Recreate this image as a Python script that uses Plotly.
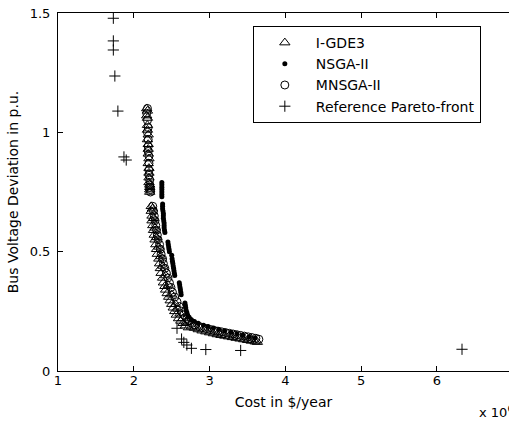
import plotly.graph_objects as go

# Cost values are in units of 10^6 $/year
igde3_x = [2.17, 2.18, 2.17, 2.18, 2.18, 2.18, 2.19, 2.18, 2.19, 2.19, 2.19, 2.20, 2.19, 2.20, 2.20, 2.20, 2.20, 2.21, 2.21, 2.21, 2.21,
           2.23, 2.23, 2.24, 2.24, 2.25, 2.26, 2.27, 2.28, 2.29, 2.30, 2.31, 2.33, 2.34, 2.35, 2.36, 2.38, 2.39, 2.41, 2.42, 2.44,
           2.46, 2.48, 2.50, 2.52, 2.54, 2.56, 2.59, 2.62, 2.65, 2.68, 2.72,
           2.245, 2.26, 2.28, 2.30, 2.33, 2.355, 2.385, 2.42, 2.455, 2.50, 2.55, 2.58, 2.61, 2.645, 2.69,
           2.76, 2.80, 2.85, 2.90, 2.95, 3.00, 3.05, 3.10, 3.15, 3.20, 3.25, 3.30, 3.35, 3.40, 3.45, 3.50, 3.55, 3.60, 3.63]
igde3_y = [1.10, 1.09, 1.07, 1.06, 1.03, 1.01, 0.99, 0.97, 0.95, 0.93, 0.91, 0.89, 0.87, 0.85, 0.83, 0.81, 0.79, 0.78, 0.77, 0.76, 0.75,
           0.69, 0.67, 0.65, 0.63, 0.61, 0.59, 0.57, 0.55, 0.53, 0.51, 0.49, 0.47, 0.45, 0.43, 0.41, 0.39, 0.37, 0.355, 0.34, 0.325,
           0.31, 0.295, 0.28, 0.265, 0.25, 0.235, 0.22, 0.21, 0.20, 0.19, 0.182,
           0.68, 0.64, 0.60, 0.56, 0.52, 0.48, 0.44, 0.40, 0.36, 0.32, 0.28, 0.26, 0.24, 0.22, 0.205,
           0.186, 0.180, 0.174, 0.169, 0.165, 0.161, 0.157, 0.153, 0.150, 0.147, 0.144, 0.141, 0.138, 0.135, 0.132, 0.129, 0.126, 0.123, 0.121]

nsga2_x = [2.37, 2.37, 2.37, 2.37, 2.37, 2.37, 2.37,
           2.38, 2.38, 2.38, 2.385, 2.39, 2.39, 2.39, 2.395, 2.40, 2.40, 2.40, 2.405, 2.41,
           2.45, 2.455, 2.46, 2.465, 2.47,
           2.50, 2.505, 2.51, 2.515, 2.52, 2.525, 2.53, 2.535, 2.54,
           2.60, 2.605, 2.61, 2.615, 2.62, 2.625,
           2.675, 2.68, 2.685, 2.69, 2.70, 2.71,
           2.73, 2.76, 2.80, 2.85, 2.92, 2.98, 3.05, 3.12, 3.20, 3.28, 3.36, 3.44, 3.52, 3.60]
nsga2_y = [0.79, 0.78, 0.77, 0.76, 0.75, 0.74, 0.73,
           0.70, 0.69, 0.68, 0.67, 0.66, 0.65, 0.64, 0.63, 0.62, 0.61, 0.60, 0.59, 0.58,
           0.54, 0.53, 0.52, 0.51, 0.50,
           0.485, 0.47, 0.46, 0.45, 0.44, 0.43, 0.42, 0.41, 0.40,
           0.37, 0.36, 0.35, 0.34, 0.33, 0.32,
           0.285, 0.275, 0.265, 0.255, 0.245, 0.235,
           0.225, 0.215, 0.207, 0.200, 0.192, 0.186, 0.180, 0.174, 0.168, 0.162, 0.156, 0.150, 0.144, 0.138]

mnsga2_x = [2.18, 2.17, 2.18, 2.19, 2.18, 2.19, 2.19, 2.19, 2.20, 2.20, 2.20, 2.20, 2.21, 2.21, 2.21, 2.22, 2.22,
            2.25, 2.26, 2.27, 2.28, 2.29, 2.30, 2.31, 2.32, 2.34, 2.35, 2.36, 2.38, 2.39, 2.41, 2.43, 2.45, 2.47, 2.49,
            2.51, 2.54, 2.57, 2.60, 2.63, 2.66, 2.70, 2.73, 2.77,
            2.81, 2.86, 2.91, 2.96, 3.01, 3.06, 3.11, 3.16, 3.21, 3.26, 3.31, 3.36, 3.41, 3.46, 3.51, 3.56, 3.61, 3.65]
mnsga2_y = [1.10, 1.08, 1.05, 1.02, 1.00, 0.97, 0.94, 0.92, 0.90, 0.87, 0.84, 0.82, 0.80, 0.78, 0.77, 0.76, 0.75,
            0.69, 0.67, 0.65, 0.63, 0.61, 0.59, 0.57, 0.55, 0.53, 0.51, 0.49, 0.47, 0.45, 0.43, 0.41, 0.39, 0.37, 0.35,
            0.33, 0.31, 0.29, 0.27, 0.25, 0.235, 0.22, 0.21, 0.20,
            0.193, 0.187, 0.182, 0.178, 0.174, 0.170, 0.167, 0.164, 0.161, 0.158, 0.155, 0.152, 0.149, 0.146, 0.143, 0.140, 0.137, 0.133]

ref_x = [1.73, 1.73, 1.73, 1.75, 1.79, 1.87, 1.90, 2.57, 2.63, 2.66, 2.70, 2.76, 2.95, 3.41, 6.33]
ref_y = [1.478, 1.383, 1.345, 1.236, 1.089, 0.897, 0.884, 0.179, 0.134, 0.120, 0.109, 0.095, 0.090, 0.086, 0.091]

x_ticks = [1, 2, 3, 4, 5, 6]
y_ticks = [0, 0.5, 1, 1.5]
y_tick_labels = ["0", "0.5", "1", "1.5"]

FONT = "DejaVu Sans, sans-serif"

fig = go.Figure()
fig.add_trace(go.Scatter(x=igde3_x, y=igde3_y, mode="markers", name="I-GDE3",
                         marker=dict(symbol="triangle-up-open", size=9, color="black", line=dict(width=1, color="black"))))
fig.add_trace(go.Scatter(x=nsga2_x, y=nsga2_y, mode="markers", name="NSGA-II",
                         marker=dict(symbol="circle", size=5, color="black")))
fig.add_trace(go.Scatter(x=mnsga2_x, y=mnsga2_y, mode="markers", name="MNSGA-II",
                         marker=dict(symbol="circle-open", size=8, color="black", line=dict(width=1, color="black"))))
fig.add_trace(go.Scatter(x=ref_x, y=ref_y, mode="markers", name="Reference Pareto-front",
                         marker=dict(symbol="cross-thin-open", size=8, color="black", line=dict(width=1, color="black"))))

fig.update_layout(
    width=509, height=428,
    margin=dict(l=58, r=0, t=13, b=57),
    paper_bgcolor="white", plot_bgcolor="white",
    font=dict(family=FONT, size=13, color="black"),
    showlegend=True,
    legend=dict(x=0.432, y=0.9637, xanchor="left", yanchor="top",
                bordercolor="black", borderwidth=1, bgcolor="white",
                font=dict(family=FONT, size=14, color="black"),
                itemwidth=52, tracegroupgap=0),
    xaxis=dict(range=[1, 6.95], tickvals=x_ticks, ticktext=[str(v) for v in x_ticks],
               showgrid=False, zeroline=False, showline=True, linecolor="black", linewidth=1,
               mirror="ticks", ticks="inside", ticklen=5, tickcolor="black",
               tickfont=dict(size=13), ticklabelstandoff=-3,
               title=dict(text="Cost in $/year", font=dict(size=14), standoff=10)),
    yaxis=dict(range=[0, 1.5], tickvals=y_ticks, ticktext=y_tick_labels,
               showgrid=False, zeroline=False, showline=True, linecolor="black", linewidth=1,
               mirror=False, ticks="inside", ticklen=5, tickcolor="black",
               tickfont=dict(size=13), ticklabelstandoff=4,
               title=dict(text="Bus Voltage Deviation in p.u.", font=dict(size=14), standoff=7)),
    annotations=[dict(text="x 10<sup>6</sup>", xref="paper", yref="paper", x=0.929, y=-0.1145,
                      xanchor="left", yanchor="middle", showarrow=False,
                      font=dict(family=FONT, size=13, color="black"))],
)

fig.write_html("out.html", config={"displayModeBar": False},
               post_script="document.body.style.margin='0';")
